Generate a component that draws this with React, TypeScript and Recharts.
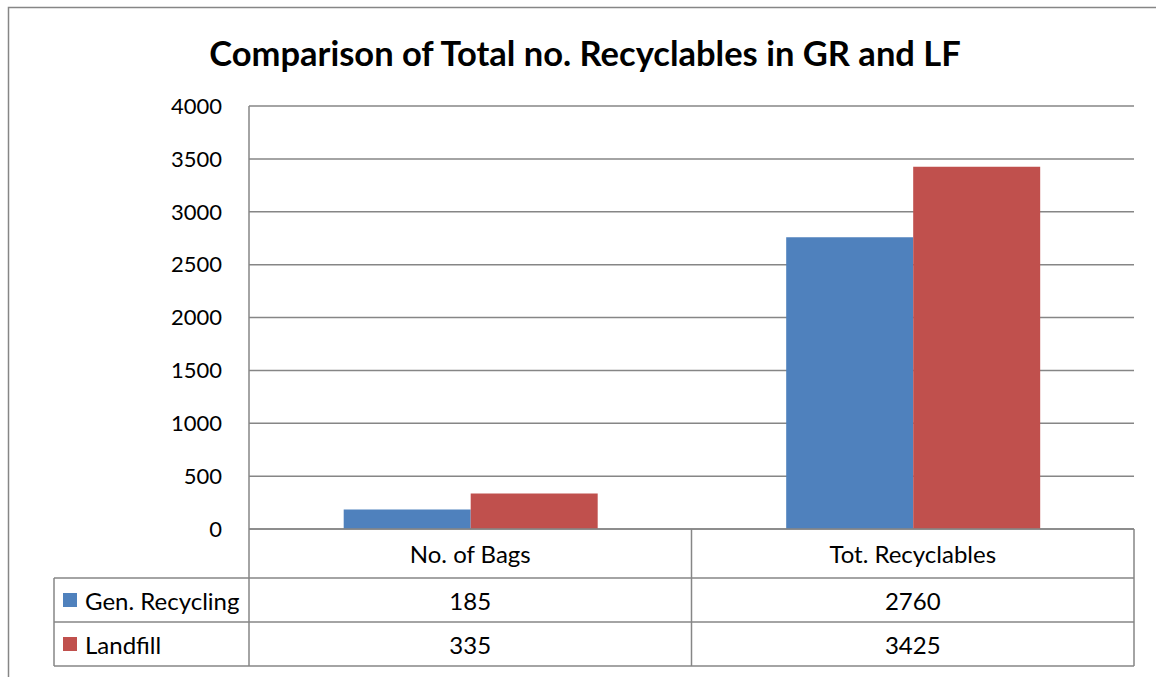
import React from 'react';
import { BarChart, Bar, XAxis, YAxis, CartesianGrid, Customized } from 'recharts';

// Chart data
const categories = ['No. of Bags', 'Tot. Recyclables'];
const genRecycling = [185, 2760];
const landfill = [335, 3425];
const yTicks = [0, 500, 1000, 1500, 2000, 2500, 3000, 3500, 4000];
const seriesNames = ['Gen. Recycling', 'Landfill'];

const data = categories.map((name, i) => ({
  name,
  gen: genRecycling[i],
  land: landfill[i],
}));

const BLUE = '#4F81BD';
const RED = '#C0504D';
const GRID = '#868686';
const FONT = 'Lato, "Open Sans", sans-serif';
const W = 1156;
const H = 677;

// layout of the plot area and data table beneath it
const PLOT_LEFT = 249;
const PLOT_RIGHT = 1134;
const PLOT_TOP = 106;
const PLOT_BOTTOM = 529;
const ROW1 = 578;
const ROW2 = 622;
const ROW3 = 666;
const TABLE_LEFT = 54;

const TableTick = (props: any) => {
  const { x, payload } = props;
  const i = payload.index;
  return (
    <g fontFamily={FONT} fontSize={24} fill="#000">
      <text x={x} y={(PLOT_BOTTOM + ROW1) / 2} textAnchor="middle" dominantBaseline="central">
        {categories[i]}
      </text>
      <text x={x} y={(ROW1 + ROW2) / 2} textAnchor="middle" dominantBaseline="central">
        {genRecycling[i]}
      </text>
      <text x={x} y={(ROW2 + ROW3) / 2} textAnchor="middle" dominantBaseline="central">
        {landfill[i]}
      </text>
    </g>
  );
};

const Frame = () => {
  const mid = (PLOT_LEFT + PLOT_RIGHT) / 2;
  return (
    <g>
      <rect x={8.5} y={7.5} width={W} height={H} fill="none" stroke={GRID} strokeWidth={1.5} />
      <text x={585} y={52} textAnchor="middle" dominantBaseline="central" fontFamily={FONT} fontWeight="bold" fontSize={34.5} fill="#000">
        Comparison of Total no. Recyclables in GR and LF
      </text>
      <g stroke={GRID} strokeWidth={1.5}>
        <line x1={PLOT_LEFT} y1={PLOT_TOP} x2={PLOT_LEFT} y2={ROW3} />
        <line x1={mid} y1={PLOT_BOTTOM} x2={mid} y2={ROW3} />
        <line x1={PLOT_RIGHT} y1={PLOT_BOTTOM} x2={PLOT_RIGHT} y2={ROW3} />
        <line x1={TABLE_LEFT} y1={ROW1} x2={TABLE_LEFT} y2={ROW3} />
        <line x1={TABLE_LEFT} y1={ROW1} x2={PLOT_RIGHT} y2={ROW1} />
        <line x1={TABLE_LEFT} y1={ROW2} x2={PLOT_RIGHT} y2={ROW2} />
        <line x1={TABLE_LEFT} y1={ROW3} x2={PLOT_RIGHT} y2={ROW3} />
      </g>
      {seriesNames.map((s, i) => {
        const top = i === 0 ? ROW1 : ROW2;
        const cy = top + (ROW2 - ROW1) / 2;
        return (
          <g key={s}>
            <rect x={63} y={cy - 7} width={14} height={14} fill={i === 0 ? BLUE : RED} />
            <text x={85} y={cy} dominantBaseline="central" fontFamily={FONT} fontSize={24} fill="#000">
              {s}
            </text>
          </g>
        );
      })}
    </g>
  );
};

export default function App() {
  return (
    <div style={{ position: 'absolute', left: 0, top: 0, width: W, height: H, background: '#fff' }}>
      <BarChart
        width={W}
        height={H}
        data={data}
        margin={{ top: PLOT_TOP, right: W - PLOT_RIGHT, left: PLOT_LEFT - 100, bottom: 0 }}
        barCategoryGap="21.4%"
        barGap={0}
      >
        <CartesianGrid vertical={false} stroke={GRID} strokeWidth={1.5} />
        <XAxis
          dataKey="name"
          height={H - PLOT_BOTTOM}
          axisLine={{ stroke: GRID, strokeWidth: 1.5 }}
          tickLine={false}
          tickSize={0}
          tick={<TableTick />}
          interval={0}
        />
        <YAxis
          width={100}
          domain={[0, 4000]}
          ticks={yTicks}
          interval={0}
          axisLine={false}
          tickLine={false}
          tickSize={0}
          tickMargin={27}
          tick={{ fontFamily: FONT, fontSize: 22, fill: '#000' }}
        />
        <Bar dataKey="gen" name={seriesNames[0]} fill={BLUE} isAnimationActive={false} />
        <Bar dataKey="land" name={seriesNames[1]} fill={RED} isAnimationActive={false} />
        <Customized component={<Frame />} />
      </BarChart>
    </div>
  );
}
